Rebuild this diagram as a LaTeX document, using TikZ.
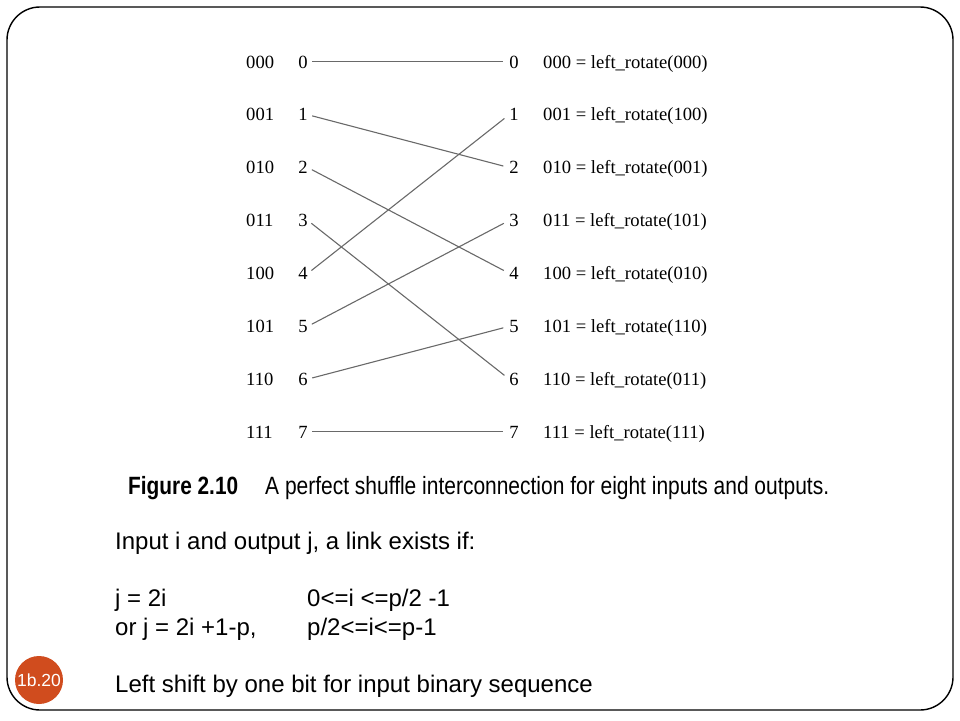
\documentclass[tikz,border=0pt]{standalone}
\usepackage{fontspec}
\usepackage{graphicx}
\setmainfont{Liberation Serif}
\newfontfamily\arialfont{Liberation Sans}
\definecolor{badge}{RGB}{208,76,30}
\definecolor{linkgray}{RGB}{105,105,105}
\begin{document}
\begin{tikzpicture}[x=1pt,y=-1pt,
  lbl/.style={font=\fontsize{18.6}{20}\selectfont, inner sep=0pt, anchor=base west},
  dig/.style={font=\fontsize{18.6}{20}\selectfont, inner sep=0pt, anchor=base},
  link/.style={draw=linkgray, line width=1.1pt, shorten <=4.5pt, shorten >=6pt},
  body/.style={font=\arialfont\fontsize{24}{28}\selectfont, inner sep=0pt, anchor=base west}]
\useasboundingbox (0,0) rectangle (960,720);
\draw[line width=1.4pt, rounded corners=33pt] (7,7) rectangle (953,710);
% rows
\foreach \i/\b/\r in {0/000/000,1/001/100,2/010/001,3/011/101,4/100/010,5/101/110,6/110/011,7/111/111}{
  \pgfmathsetmacro{\yy}{68+52.86*\i}
  \node[lbl] (bin\i) at (246,\yy) {\b};
  \node[dig] (in\i) at (303,\yy) {\i};
  \node[dig] (out\i) at (514,\yy) {\i};
  \node[lbl] (rot\i) at (543,\yy) {\b\ = left\_rotate(\r)};
}
\draw[link] (in0.east) -- (out0.west);
\draw[link] (in1.east) -- (out2.west);
\draw[link] (in2.east) -- (out4.west);
\draw[link] (in3.east) -- (out6.west);
\draw[link] (in4.east) -- (out1.west);
\draw[link] (in5.east) -- (out3.west);
\draw[link] (in6.east) -- (out5.west);
\draw[link] (in7.east) -- (out7.west);
% caption
\node[inner sep=0pt, anchor=base west] (figno) at (128,494)
  {\resizebox{110pt}{\height}{\arialfont\bfseries\fontsize{25}{28}\selectfont Figure 2.10}};
\node[inner sep=0pt, anchor=base west] (figcap) at (265,494)
  {\resizebox{564pt}{\height}{\arialfont\fontsize{25}{28}\selectfont A perfect shuffle interconnection for eight inputs and outputs.}};
% body text
\node[body] (t1) at (115,549) {Input i and output j, a link exists if:};
\node[body] (t2) at (115,606) {j = 2i};
\node[body] (t2b) at (307,606) {0<=i <=p/2 -1};
\node[body] (t3) at (115,635) {or j = 2i +1-p,};
\node[body] (t3b) at (307,635) {p/2<=i<=p-1};
\node[body] (t4) at (115,692) {Left shift by one bit for input binary sequence};
% badge
\node[circle, fill=badge, minimum size=48pt, inner sep=0pt] (badge) at (39,680) {};
\node[text=white, font=\arialfont\fontsize{17.5}{19}\selectfont, inner sep=0pt] (badgetxt) at (39,680) {1b.20};
\end{tikzpicture}
\end{document}
